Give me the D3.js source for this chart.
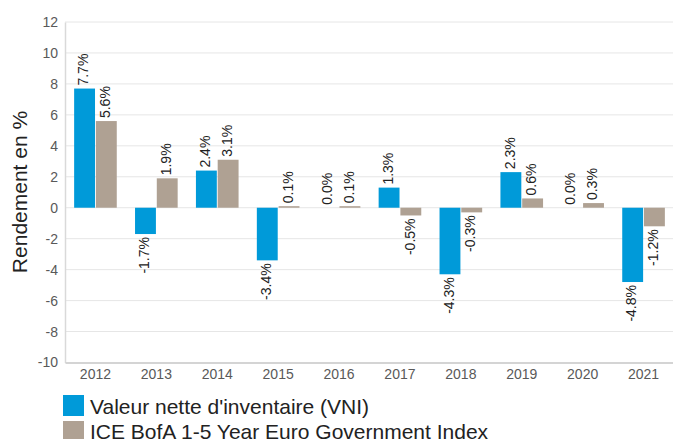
<!DOCTYPE html>
<html>
<head>
<meta charset="utf-8">
<script src="https://cdn.jsdelivr.net/npm/d3@7"></script>
<style>
  body { margin: 0; background: #fff; }
  svg { font-family: "Liberation Sans", Arial, sans-serif; }
</style>
</head>
<body>
<svg id="chart" width="673" height="439"></svg>
<script>
const years = ["2012", "2013", "2014", "2015", "2016", "2017", "2018", "2019", "2020", "2021"];
const vni = [7.7, -1.7, 2.4, -3.4, 0.0, 1.3, -4.3, 2.3, 0.0, -4.8];
const indexVals = [5.6, 1.9, 3.1, 0.1, 0.1, -0.5, -0.3, 0.6, 0.3, -1.2];
const seriesNames = ["Valeur nette d'inventaire (VNI)", "ICE BofA 1-5 Year Euro Government Index"];
const yTicks = [-10, -8, -6, -4, -2, 0, 2, 4, 6, 8, 10, 12];

const colors = ["#009ad9", "#afa193"];

const svg = d3.select("#chart");
const plotLeft = 65, plotRight = 674, plotTop = 22, plotBottom = 362.5;

const x = d3.scaleBand().domain(years).range([plotLeft, plotRight]).paddingInner(0.3).paddingOuter(0.15);
const x1 = d3.scaleBand().domain([0, 1]).range([0, x.bandwidth()]).paddingInner(0.04);
const y = d3.scaleLinear().domain([-10, 12]).range([plotBottom, plotTop]);

// gridlines
svg.append("g")
  .selectAll("line")
  .data(yTicks.filter(t => t !== -10))
  .enter()
  .append("line")
  .attr("x1", plotLeft)
  .attr("x2", 673)
  .attr("y1", d => y(d))
  .attr("y2", d => y(d))
  .attr("stroke", "#e6e6e6")
  .attr("stroke-width", 1);

// y axis
const yAxis = d3.axisLeft(y).tickValues(yTicks).tickSize(0).tickPadding(7).tickFormat(d => String(d));
const gy = svg.append("g").attr("transform", `translate(${plotLeft},0)`).call(yAxis);
gy.select(".domain").attr("stroke", "#d9d9d9").attr("stroke-width", 1.5);
gy.selectAll("text").attr("fill", "#595959").style("font-size", "14px");

svg.append("text")
  .attr("transform", "translate(27,192) rotate(-90)")
  .attr("text-anchor", "middle")
  .attr("fill", "#222")
  .style("font-size", "21px")
  .text("Rendement en %");

const data = years.map((yr, i) => ({ year: yr, vals: [vni[i], indexVals[i]] }));

const groups = svg.append("g")
  .selectAll("g")
  .data(data)
  .enter()
  .append("g")
  .attr("transform", d => `translate(${x(d.year)},0)`);

groups.selectAll("rect")
  .data(d => d.vals.map((v, k) => ({ v, k })))
  .enter()
  .append("rect")
  .attr("x", d => x1(d.k))
  .attr("width", x1.bandwidth())
  .attr("y", d => y(Math.max(0, d.v)))
  .attr("height", d => Math.abs(y(d.v) - y(0)))
  .attr("fill", d => colors[d.k]);

groups.selectAll("text")
  .data(d => d.vals.map((v, k) => ({ v, k })))
  .enter()
  .append("text")
  .attr("transform", d => {
    const cx = x1(d.k) + x1.bandwidth() / 2;
    const cy = d.v >= 0 ? y(d.v) - 3 : y(d.v) + 3;
    return `translate(${cx},${cy}) rotate(-90)`;
  })
  .attr("text-anchor", d => d.v >= 0 ? "start" : "end")
  .attr("dominant-baseline", "middle")
  .attr("fill", "#222")
  .style("font-size", "14px")
  .text(d => d.v.toFixed(1) + "%");

// x axis
const xAxis = d3.axisBottom(x).tickSize(0).tickPadding(7);
const gx = svg.append("g").attr("transform", `translate(0,${plotBottom})`).call(xAxis);
gx.select(".domain").attr("stroke", "#d4d4d4").attr("stroke-width", 2);
gx.selectAll("text").attr("fill", "#595959").style("font-size", "14px");

// legend
const legend = svg.append("g");
seriesNames.forEach((name, i) => {
  legend.append("rect")
    .attr("x", 63)
    .attr("y", 395 + i * 26)
    .attr("width", 21)
    .attr("height", 21)
    .attr("fill", colors[i]);
  legend.append("text")
    .attr("x", 90)
    .attr("y", 414 + i * 24.5)
    .attr("fill", "#222")
    .style("font-size", "21px")
    .text(name);
});
</script>
</body>
</html>
